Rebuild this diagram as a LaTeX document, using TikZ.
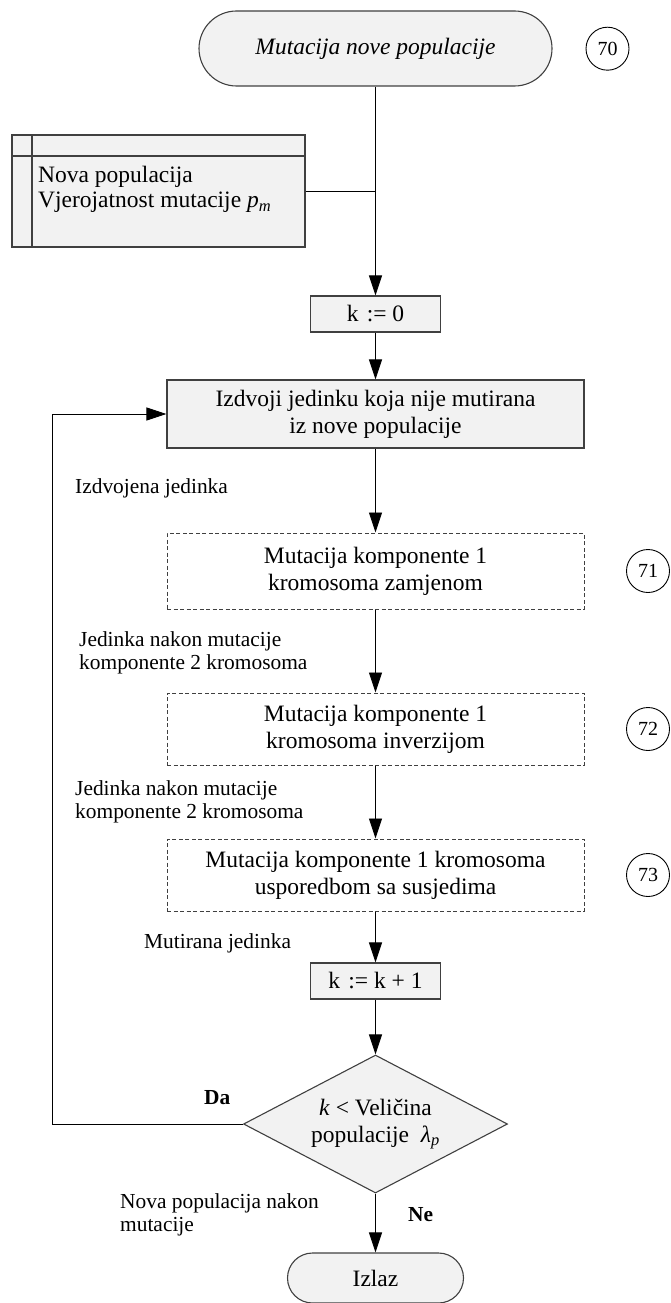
\documentclass[tikz,border=0pt]{standalone}
\usepackage{fontspec}
\setmainfont{Liberation Serif}
\usetikzlibrary{shapes.misc,shapes.geometric,arrows.meta}
\definecolor{fillc}{HTML}{F2F2F2}
\definecolor{boxc}{HTML}{404040}
\definecolor{dashc}{HTML}{404040}
\begin{document}
\begin{tikzpicture}[x=1pt,y=-1pt,
  box/.style={draw=boxc, line width=1.1pt, fill=fillc, inner sep=0pt, align=center,
    font=\fontsize{23.5}{27}\selectfont},
  term/.style={box, rounded rectangle},
  dbox/.style={draw=dashc, dash pattern=on 4pt off 2.5pt, line width=1pt, inner sep=0pt,
    align=center, minimum width=417pt, font=\fontsize{23.5}{27}\selectfont},
  num/.style={circle, draw, line width=0.9pt, fill=white, minimum size=43pt, inner sep=0pt,
    font=\fontsize{20}{20}\selectfont},
  lbl/.style={anchor=west, align=left, inner sep=0pt, font=\fontsize{21.4}{23.5}\selectfont},
  arr/.style={-{Triangle[length=20pt,width=13pt]}, line width=0.9pt},
  ln/.style={line width=0.9pt}
]
\useasboundingbox (0,0) rectangle (670,1303);

% nodes
\node[term, minimum width=353pt, minimum height=75pt] (start) at (375.5,48.5) {\textit{Mutacija nove populacije}};
\node[num] (c70) at (607.5,48.7) {70};

\node[box, minimum width=293pt, minimum height=112pt] (data) at (158.5,191) {};
\draw[draw=boxc, line width=1.1pt] (12,156) -- (305,156);
\draw[draw=boxc, line width=1.1pt] (32,135) -- (32,247);
\node[anchor=west, align=left, inner sep=0pt, font=\fontsize{23.5}{25}\selectfont] (datatext) at (38,189.5)
  {Nova populacija\\Vjerojatnost mutacije \textit{p}\textsubscript{\textit{m}}};

\node[box, minimum width=130pt, minimum height=36pt] (k0) at (375.5,314) {k\hspace{0.35em}:= 0};
\node[box, minimum width=417pt, minimum height=68pt] (izd) at (375.5,414) {Izdvoji jedinku koja nije mutirana\\iz nove populacije};

\node[dbox, minimum height=76pt] (m1) at (375.5,571) {Mutacija komponente 1\\kromosoma zamjenom};
\node[num] (c71) at (648,571) {71};
\node[dbox, minimum height=72pt] (m2) at (375.5,729) {Mutacija komponente 1\\kromosoma inverzijom};
\node[num] (c72) at (648,729) {72};
\node[dbox, minimum height=72pt] (m3) at (375.5,875) {Mutacija komponente 1 kromosoma\\usporedbom sa susjedima};
\node[num] (c73) at (648,875) {73};

\node[box, minimum width=130pt, minimum height=36pt] (k1) at (375.5,981) {k\hspace{0.35em}:= k + 1};

\node[box, diamond, aspect=1.913, minimum width=264pt, minimum height=138pt] (dia) at (375.5,1124)
  {\textit{k} < Veličina\\populacije \ \textit{λ}\textsubscript{\textit{p}}};

\node[term, minimum width=176pt, minimum height=50pt] (izlaz) at (375.5,1278) {Izlaz};

% labels
\node[lbl] (l1) at (75,488) {Izdvojena jedinka};
\node[lbl] (l2) at (79,653) {Jedinka nakon mutacije\\komponente 2 kromosoma};
\node[lbl] (l3) at (75,802) {Jedinka nakon mutacije\\komponente 2 kromosoma};
\node[lbl] (l4) at (144,943) {Mutirana jedinka};
\node[lbl, font=\fontsize{21.4}{23.5}\selectfont\bfseries] (lda) at (204,1098) {Da};
\node[lbl] (l5) at (120,1215) {Nova populacija nakon\\mutacije};
\node[lbl, font=\fontsize{21.4}{23.5}\selectfont\bfseries] (lne) at (408,1215) {Ne};

% connectors
\draw[arr] (start.south) -- (k0.north);
\draw[ln] (data.east) -- (data.east -| start.south);
\draw[arr] (k0.south) -- (izd.north);
\draw[arr] (izd.south) -- (m1.north);
\draw[arr] (m1.south) -- (m2.north);
\draw[arr] (m2.south) -- (m3.north);
\draw[arr] (m3.south) -- (k1.north);
\draw[arr] (k1.south) -- (dia.north);
\draw[arr] (dia.south) -- (izlaz.north);
\coordinate (lp) at (52.6,414);
\draw[arr] (dia.west) -| (lp) -- (izd.west);
\end{tikzpicture}
\end{document}
